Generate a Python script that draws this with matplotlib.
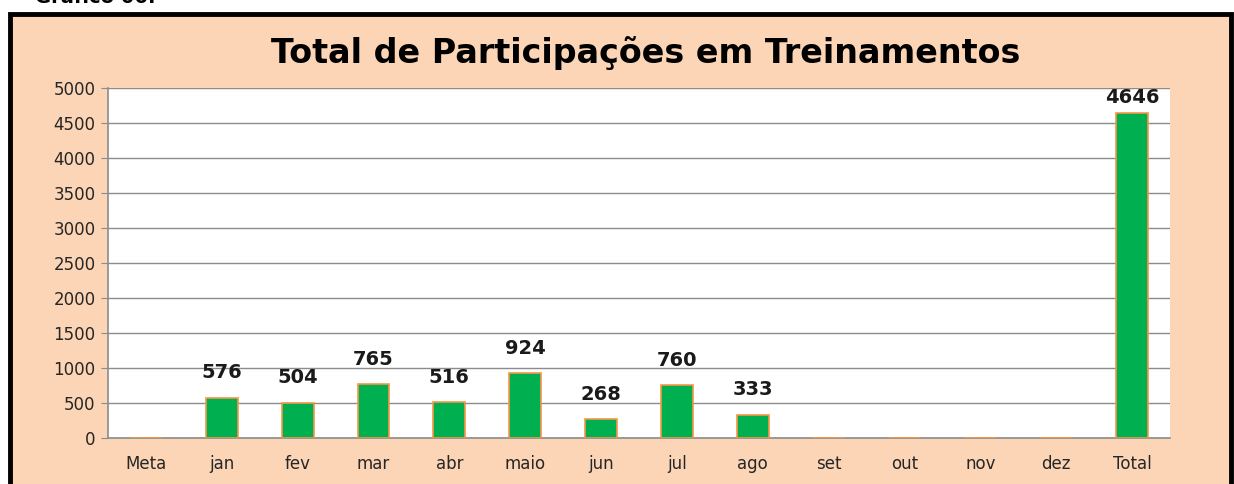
import numpy as np
import matplotlib.pyplot as plt
from matplotlib.patches import Rectangle

meses = ['Meta', 'jan', 'fev', 'mar', 'abr', 'maio', 'jun', 'jul', 'ago',
         'set', 'out', 'nov', 'dez', 'Total']
participacoes = [None, 576, 504, 765, 516, 924, 268, 760, 333,
                 None, None, None, None, 4646]

fundo = '#FBD5B5'
verde = '#00B050'
laranja = '#F79646'

fig = plt.figure(figsize=(12.34, 4.84), dpi=100)

# moldura pêssego com borda preta grossa
fig.patches.append(Rectangle((10 / 1234, -0.05), 1221 / 1234, 1.05 - 13.5 / 484,
                             transform=fig.transFigure, facecolor=fundo,
                             edgecolor='black', linewidth=3.5, zorder=-10))
fig.text(0.028, 1 - 3 / 484, 'Gráfico 06:', fontsize=14, fontweight='bold',
         ha='left', va='baseline', color='black')

ax = fig.add_axes([108 / 1234, 1 - 438 / 484, 1062 / 1234, 350 / 484])
ax.set_facecolor('white')

x = np.arange(len(meses))
vals = [v if v is not None else 0 for v in participacoes]
bars = ax.bar(x, vals, width=0.42, color=verde, edgecolor=laranja,
              linewidth=1.2, zorder=3)

for xi, v in zip(x, participacoes):
    if v is None:
        continue
    # rótulo do total fica colado na barra para caber na área do gráfico
    off = 11 if v < 4000 else 4
    ax.annotate(str(v), (xi, v), xytext=(0, off), textcoords='offset points',
                ha='center', va='bottom', fontsize=14, fontweight='bold',
                color='#1a1a1a')

ax.set_xlim(-0.5, len(meses) - 0.5)
ax.set_ylim(0, 5000)
ax.set_yticks(np.arange(0, 5001, 500))
ax.set_xticks(x)
ax.set_xticklabels(meses)
ax.yaxis.grid(True, color='#8c8c8c', linewidth=1.0, zorder=0)
ax.set_axisbelow(True)

for s in ['top', 'right']:
    ax.spines[s].set_visible(False)
for s in ['left', 'bottom']:
    ax.spines[s].set_color('#8c8c8c')
    ax.spines[s].set_linewidth(1.2)

ax.tick_params(axis='y', length=5, color='#8c8c8c', labelsize=12,
               labelcolor='#262626', pad=4)
ax.tick_params(axis='x', length=0, labelsize=12, labelcolor='#262626', pad=12)

fig.text(0.523, 1 - 53 / 484, 'Total de Participações em Treinamentos',
         ha='center', va='center', fontsize=24, fontweight='bold', color='black')

fig.savefig('out.png', dpi=100, facecolor='white')
